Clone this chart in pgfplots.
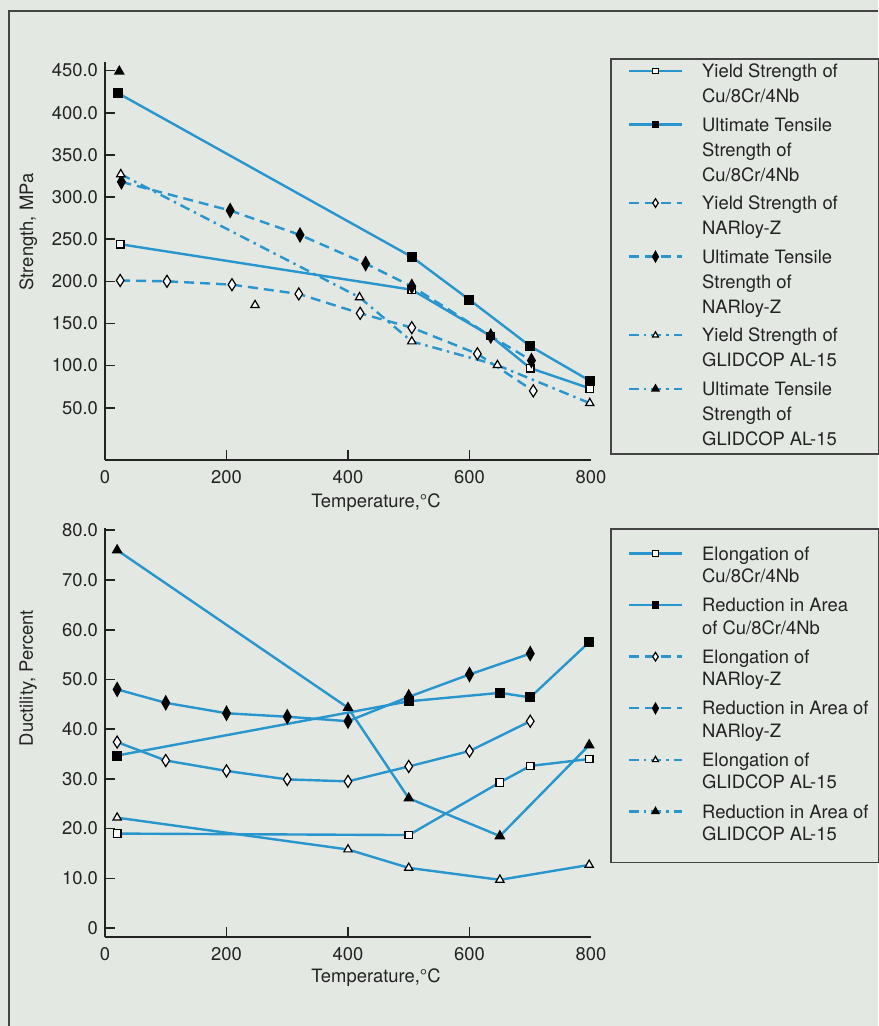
\documentclass[border=0pt]{standalone}
\usepackage{fontspec}
\setmainfont{TeX Gyre Heros}
\usepackage{pgfplots}
\pgfplotsset{compat=1.18}
\definecolor{bg}{RGB}{227,232,227}
\definecolor{lb}{RGB}{40,150,205}
\definecolor{ink}{RGB}{35,35,35}
\newcommand{\LE}[1]{\parbox[t]{84.5pt}{\raggedright\strut #1\strut}}
\pgfplotsset{
  base/.style={
    scale only axis, width=243pt,
    xmin=0, xmax=800, clip=false,
    axis lines=left,
    axis line style={ink, line width=1pt, -},
    tick align=inside,
    major tick length=5pt,
    tick style={ink, line width=0.8pt},
    xtick={200,400,600},
    xticklabels={200,400,600},
    extra x ticks={0,800},
    extra x tick labels={0,800},
    extra x tick style={major tick length=0pt},
    /pgf/number format/assume math mode=true,
    tick label style={font=\fontsize{9.2}{11}\selectfont, text=ink},
    xticklabel style={yshift=-1.5pt},
    label style={font=\fontsize{9.2}{11}\selectfont, text=ink},
    legend image code/.code={\path (0pt,3.3pt);\draw[mark repeat=2,mark phase=2,##1] plot coordinates {(4.5pt,3.3pt) (17.75pt,3.3pt) (31pt,3.3pt)};},
    legend image post style={every mark/.append style={scale=0.72}},
  },
  ser/.style={lb, line width=1.2pt},
  osq/.style={mark=square*, mark size=1.9pt, mark options={solid, draw=black, fill=white, line width=0.6pt}},
  fsq/.style={mark=square*, mark size=1.9pt, mark options={solid, draw=black, fill=black}},
  odi/.style={mark=diamond*, mark size=3pt, mark options={solid, draw=black, fill=white, line width=0.6pt, xscale=0.85}},
  fdi/.style={mark=diamond*, mark size=2.8pt, mark options={solid, draw=black, fill=black, xscale=0.75}},
  otr/.style={mark=triangle*, mark size=2.4pt, mark options={solid, draw=black, fill=white, line width=0.6pt}},
  ftr/.style={mark=triangle*, mark size=2pt, mark options={solid, draw=black, fill=black}},
  dsh/.style={dash pattern=on 5pt off 3pt},
  ddot/.style={dash pattern=on 5pt off 2.5pt on 1.2pt off 2.5pt},
}
\begin{document}
\begin{tikzpicture}
\useasboundingbox (0,0) rectangle (439pt,513pt);
\fill[bg] (0,0) rectangle (439pt,513pt);
\draw[ink!85, line width=1pt] (4.5pt,0pt) -- (4.5pt,507.5pt) -- (439pt,507.5pt);

% ---------------- top: strength ----------------
\begin{axis}[base,
  at={(52.5pt,283pt)}, anchor=south west,
  height=198.9pt,
  ymin=-12, ymax=460,
  ytick={50,100,...,450},
  yticklabels={50.0,100.0,150.0,200.0,250.0,300.0,350.0,400.0,450.0},
  xlabel={Temperature,°C},
  ylabel={Strength, MPa},
  xlabel style={at={(axis description cs:0.5576,-0.108)}, anchor=center},
  ylabel style={at={(axis description cs:-0.158,0.573)}, anchor=center},
  legend style={at={(axis description cs:1.0391,1.0101)}, anchor=north west,
    draw=ink!85, line width=0.8pt, fill=bg,
    inner xsep=4pt, inner ysep=0.5pt, row sep=1.8pt, column sep=9.5pt,
    cells={anchor=base west},
    nodes={inner sep=0pt, text depth=, text=ink},
    font=\fontsize{9.2}{12.5}\selectfont},
]
\addplot[ser, osq] coordinates {(25,244) (505,190) (635,135) (700,97) (798,73)};
\addlegendentry{\LE{Yield Strength of\\Cu/8Cr/4Nb}}
\addplot[ser, fsq] coordinates {(22,423) (505,229) (600,178) (700,123) (798,82)};
\addlegendentry{\LE{Ultimate Tensile\\Strength of\\Cu/8Cr/4Nb}}
\addplot[ser, dsh, odi] coordinates {(25,201) (102,200) (209,196) (319,185) (420,162) (505,145) (613,114) (705,70)};
\addlegendentry{\LE{Yield Strength of\\NARloy-Z}}
\addplot[ser, dsh, fdi] coordinates {(27,318) (206,284) (321,255) (429,221) (505,194) (635,135) (702,106)};
\addlegendentry{\LE{Ultimate Tensile\\Strength of\\NARloy-Z}}
\addplot[ser, ddot, otr] coordinates {(26,327) (419,181) (505,128.6) (646,100.5) (798,55.4)};
\addlegendentry{\LE{Yield Strength of\\GLIDCOP AL-15}}
\addplot[ser, ddot, ftr] coordinates {(23.5,449)};
\addlegendentry{\LE{Ultimate Tensile\\Strength of\\GLIDCOP AL-15}}
\addplot[only marks, otr, forget plot] coordinates {(247,171.7)};
\end{axis}

% ---------------- bottom: ductility ----------------
\begin{axis}[base,
  at={(52.5pt,44.5pt)}, anchor=south west,
  height=204.6pt,
  ymin=-1.8, ymax=80.5,
  ytick={0,10,...,80},
  yticklabels={0,10.0,20.0,30.0,40.0,50.0,60.0,70.0,80.0},
  xlabel={Temperature,°C},
  ylabel={Ductility, Percent},
  xlabel style={at={(axis description cs:0.5576,-0.1)}, anchor=center},
  ylabel style={at={(axis description cs:-0.158,0.633)}, anchor=center},
  legend style={at={(axis description cs:1.0391,0.999)}, anchor=north west,
    draw=ink!85, line width=0.8pt, fill=bg,
    inner xsep=4pt, inner ysep=7.7pt, row sep=3.4pt, column sep=9.5pt,
    cells={anchor=base west},
    nodes={inner sep=0pt, text depth=, text=ink},
    font=\fontsize{9.2}{11.2}\selectfont},
]
\addplot[ser, osq, forget plot] coordinates {(20,19) (500,18.7) (650,29.3) (700,32.6) (797,34)};
\addplot[ser, fsq, forget plot] coordinates {(20,34.7) (500,45.6) (650,47.3) (700,46.4) (797,57.5)};
\addplot[ser, odi, forget plot] coordinates {(20,37.4) (100,33.7) (200,31.6) (300,29.9) (400,29.5) (500,32.5) (600,35.6) (700,41.6)};
\addplot[ser, fdi, forget plot] coordinates {(20,48) (100,45.3) (200,43.2) (300,42.5) (400,41.6) (500,46.5) (600,51) (700,55.2)};
\addplot[ser, otr, forget plot] coordinates {(20,22.2) (400,15.8) (500,12.1) (650,9.7) (797,12.7)};
\addplot[ser, ftr, forget plot] coordinates {(20,76) (400,44.3) (500,26.1) (650,18.5) (797,36.8)};
\addlegendimage{ser, osq}
\addlegendentry{\LE{Elongation of\\Cu/8Cr/4Nb}}
\addlegendimage{ser, fsq}
\addlegendentry{\LE{Reduction in Area\\of Cu/8Cr/4Nb}}
\addlegendimage{ser, dsh, odi}
\addlegendentry{\LE{Elongation of\\NARloy-Z}}
\addlegendimage{ser, dsh, fdi}
\addlegendentry{\LE{Reduction in Area of\\NARloy-Z}}
\addlegendimage{ser, ddot, otr}
\addlegendentry{\LE{Elongation of\\GLIDCOP AL-15}}
\addlegendimage{ser, ddot, ftr}
\addlegendentry{\LE{Reduction in Area of\\GLIDCOP AL-15}}
\end{axis}
\end{tikzpicture}
\end{document}
